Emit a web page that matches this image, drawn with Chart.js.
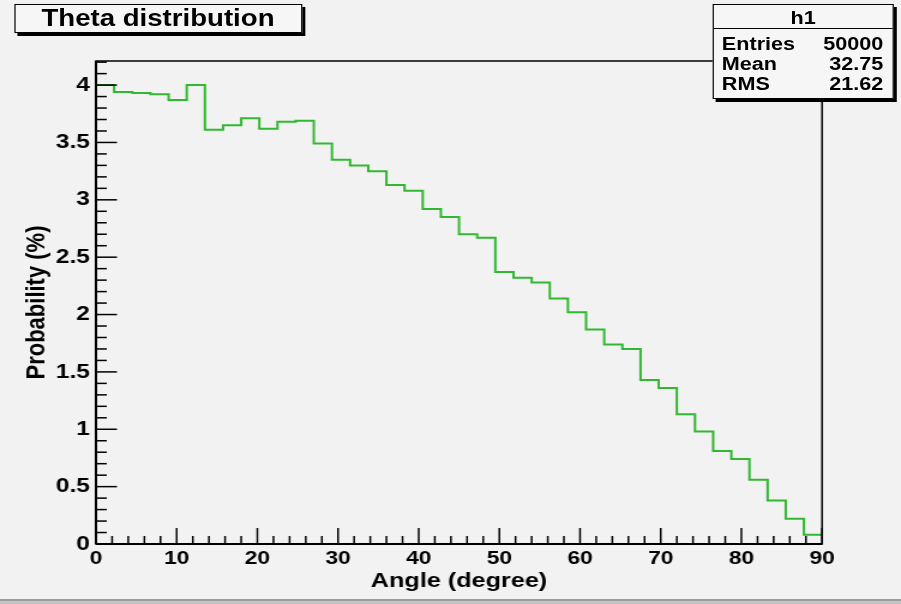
<!DOCTYPE html>
<html>
<head>
<meta charset="utf-8">
<script src="https://cdn.jsdelivr.net/npm/chart.js@4.4.0/dist/chart.umd.min.js"></script>
<style>
  html, body { margin: 0; padding: 0; background: #f2f2f2; overflow: hidden; }
  body { width: 901px; height: 604px; position: relative; }
  /* the reference is a ROOT canvas stretched sideways, so draw at 751px and widen */
  #page {
    position: absolute; left: 0; top: 0; width: 751px; height: 604px;
    transform-origin: 0 0; transform: scale(1.19973, 1);
    font-family: "Liberation Sans", Arial, sans-serif; font-weight: bold; color: #000;
  }
  #c { position: absolute; left: 0; top: 0; }
  .box {
    position: absolute; background: #f6f6f6; border: 1.5px solid #000;
    box-shadow: 2.5px 3px 0 #000; box-sizing: border-box;
  }
  #titleBox {
    left: 11.7px; top: 4px; width: 240px; height: 29px;
    font-size: 23px; line-height: 27px; text-align: center;
  }
  #statBox { left: 593.7px; top: 4px; width: 151.6px; height: 95px; font-size: 18px; }
  #statBox .head { height: 22.5px; line-height: 26px; text-align: center; border-bottom: 1px solid #000; }
  #statBox .rows { padding: 5px 8px 0 7px; }
  #statBox .row { display: flex; justify-content: space-between; height: 20px; line-height: 20px; }
  #bottomLine { position: absolute; left: 0; top: 599px; width: 901px; height: 5px; background: #c4c4c4; border-top: 2px solid #9c9c9c; box-sizing: border-box; }
</style>
</head>
<body>
<div id="page">
  <canvas id="c" width="751" height="604"></canvas>
  <div id="titleBox" class="box"></div>
  <div id="statBox" class="box"></div>
</div>
<div id="bottomLine"></div>
<script>
// h1 : theta distribution, 40 bins between 0 and 90 degree (percent per bin)
const binValues = [4.00, 3.94, 3.93, 3.92, 3.87, 4.00, 3.61, 3.65, 3.71, 3.62,
                   3.68, 3.69, 3.49, 3.35, 3.30, 3.25, 3.13, 3.08, 2.92, 2.85,
                   2.70, 2.67, 2.37, 2.32, 2.28, 2.14, 2.02, 1.87, 1.74, 1.70,
                   1.43, 1.36, 1.13, 0.98, 0.81, 0.74, 0.56, 0.38, 0.22, 0.08];
const xMin = 0;
const xMax = 90;
const yMax = 4.21;
const xTicks = [0, 10, 20, 30, 40, 50, 60, 70, 80, 90];
const yTicks = [0, 0.5, 1, 1.5, 2, 2.5, 3, 3.5, 4];
const titleText = 'Theta distribution';
const xTitle = 'Angle (degree)';
const yTitle = 'Probability (%)';
const statName = 'h1';
const statLabels = ['Entries', 'Mean', 'RMS'];
const statValues = ['50000', '32.75', '21.62'];

// boxes
document.getElementById('titleBox').textContent = titleText;
let sb = document.getElementById('statBox');
let html = '<div class="head">' + statName + '</div><div class="rows">';
for (let i = 0; i < statLabels.length; i++) {
    html += '<div class="row"><span>' + statLabels[i] + '</span><span>' + statValues[i] + '</span></div>';
}
sb.innerHTML = html + '</div>';

// step points : left edge of each bin, plus the right end of the last one
let binWidth = (xMax - xMin) / binValues.length;
let points = [];
for (let i = 0; i < binValues.length; i++) {
    points.push({x: xMin + i * binWidth, y: binValues[i]});
}
points.push({x: xMax, y: binValues[binValues.length - 1]});

const font = {family: '"Liberation Sans", Arial, sans-serif', weight: 'bold'};

// frame, axes and inner ticks like ROOT draws them
const rootFrame = {
    id: 'rootFrame',
    afterDraw(chart) {
        const ctx = chart.ctx, a = chart.chartArea;
        const xs = chart.scales.x, ys = chart.scales.y;
        function line(x1, y1, x2, y2) {
            ctx.beginPath(); ctx.moveTo(x1, y1); ctx.lineTo(x2, y2); ctx.stroke();
        }
        ctx.save();
        ctx.strokeStyle = '#000';
        ctx.lineWidth = 1.5;
        ctx.strokeRect(a.left, a.top, a.right - a.left, a.bottom - a.top);
        ctx.lineWidth = 2;
        line(a.left, a.top, a.left, a.bottom);
        line(a.left, a.bottom, a.right, a.bottom);

        ctx.lineWidth = 1.5;
        for (let k = 0; k <= Math.floor(yMax * 10); k++) {
            let y = ys.getPixelForValue(k / 10);
            line(a.left, y, a.left + (k % 5 == 0 ? 17.5 : 9), y);
        }
        for (let v = xMin; v <= xMax; v += 2) {
            let x = xs.getPixelForValue(v);
            line(x, a.bottom, x, a.bottom - (v % 10 == 0 ? 16 : 8));
        }
        ctx.restore();
    }
};

new Chart(document.getElementById('c'), {
    type: 'line',
    data: {
        datasets: [{
            label: statName,
            data: points,
            stepped: 'before',
            borderColor: '#30b830',
            borderWidth: 2,
            pointRadius: 0,
            fill: false
        }]
    },
    options: {
        responsive: false,
        animation: false,
        layout: {padding: {left: 0, right: 65.8, top: 61, bottom: 0}},
        plugins: {legend: {display: false}, tooltip: {enabled: false}},
        scales: {
            x: {
                type: 'linear', min: xMin, max: xMax,
                grid: {display: false, drawTicks: false}, border: {display: false},
                afterBuildTicks: s => { s.ticks = xTicks.map(v => ({value: v})); },
                afterFit: s => { s.height = 60; },
                ticks: {color: '#000', font: {...font, size: 19}, padding: 3, maxRotation: 0, autoSkip: false,
                        callback: v => String(v)},
                title: {display: true, text: xTitle, color: '#000', font: {...font, size: 21}, padding: {top: 0, bottom: 10}}
            },
            y: {
                type: 'linear', min: 0, max: yMax,
                grid: {display: false, drawTicks: false}, border: {display: false},
                afterBuildTicks: s => { s.ticks = yTicks.map(v => ({value: v})); },
                afterFit: s => { s.width = 80; },
                ticks: {color: '#000', font: {...font, size: 20.5}, padding: 5, callback: v => String(v)},
                title: {display: true, text: yTitle, color: '#000', font: {...font, size: 22}, padding: {top: 18, bottom: 0}}
            }
        }
    },
    plugins: [rootFrame]
});
</script>
</body>
</html>
